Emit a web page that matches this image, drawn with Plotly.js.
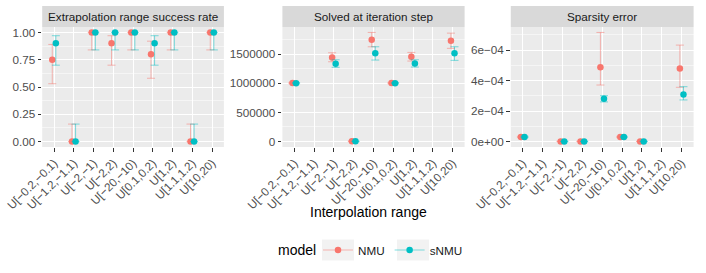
<!DOCTYPE html>
<html>
<head>
<meta charset="utf-8">
<script src="https://cdn.plot.ly/plotly-3.0.1.min.js"></script>
<style>html,body{margin:0;padding:0;background:#fff;}#chart{width:706px;height:273px;}</style>
</head>
<body>
<div id="chart"></div>
<script>
// ---- data ----
const categories = ["U[\u22120.2,\u22120.1)","U[\u22121.2,\u22121.1)","U[\u22122,\u22121)","U[\u22122,2)","U[\u221220,\u221210)","U[0.1,0.2)","U[1,2)","U[1.1,1.2)","U[10,20)"];
const models = ["NMU", "sNMU"];
const panelTitles = ["Extrapolation range success rate", "Solved at iteration step", "Sparsity error"];

// Extrapolation range success rate
const nmuSuccess    = [0.75, 0,    1,    0.90, 1,    0.80, 1,    0,    1];
const nmuSuccessLo  = [0.53, 0,    0.84, 0.70, 0.84, 0.58, 0.84, 0,    0.84];
const nmuSuccessHi  = [0.89, 0.16, 1,    0.97, 1,    0.92, 1,    0.16, 1];
const snmuSuccess   = [0.90, 0,    1,    1,    1,    0.90, 1,    0,    1];
const snmuSuccessLo = [0.70, 0,    0.84, 0.84, 0.84, 0.70, 0.84, 0,    0.84];
const snmuSuccessHi = [0.97, 0.16, 1,    1,    1,    0.97, 1,    0.16, 1];

// Solved at iteration step
const nmuIter    = [1005000, null, 1445000, 5000,  1747000, 1005000, 1455000, null, 1729000];
const nmuIterLo  = [995000,  null, 1370000, 0,     1627000, 995000,  1382000, null, 1600000];
const nmuIterHi  = [1015000, null, 1524000, 10000, 1873000, 1015000, 1530000, null, 1861000];
const snmuIter   = [1003000, null, 1336000, 4000,  1514000, 1003000, 1342000, null, 1514000];
const snmuIterLo = [993000,  null, 1274000, 0,     1399000, 993000,  1279000, null, 1394000];
const snmuIterHi = [1013000, null, 1404000, 8000,  1627000, 1013000, 1404000, null, 1627000];

// Sparsity error
const nmuSparse    = [3.0e-5, null, 1e-6, 1e-6, 4.87e-4, 3.0e-5, 1e-6, null, 4.80e-4];
const nmuSparseLo  = [2.6e-5, null, 0,    0,    3.71e-4, 2.6e-5, 0,    null, 3.56e-4];
const nmuSparseHi  = [3.4e-5, null, 2e-6, 2e-6, 7.16e-4, 3.4e-5, 2e-6, null, 6.33e-4];
const snmuSparse   = [3.0e-5, null, 1e-6, 1e-6, 2.81e-4, 3.0e-5, 1e-6, null, 3.08e-4];
const snmuSparseLo = [2.6e-5, null, 0,    0,    2.60e-4, 2.6e-5, 0,    null, 2.73e-4];
const snmuSparseHi = [3.4e-5, null, 2e-6, 2e-6, 3.01e-4, 3.4e-5, 2e-6, null, 3.60e-4];

const sparseTickVals = [0, 2e-4, 4e-4, 6e-4];
const sparseTickText = ["0e+00", "2e\u221204", "4e\u221204", "6e\u221204"];

// ---- styling ----
const colors = {NMU: "#F8766D", sNMU: "#00BFC4"};
const barColors = {NMU: "rgba(248,118,109,0.5)", sNMU: "rgba(0,191,196,0.5)"};
const FONT = "Liberation Sans, Arial, Helvetica, sans-serif";
const W = 706, H = 273;
const xDomains = [[42.2 / W, 223.9 / W], [282.4 / W, 464.6 / W], [510.8 / W, 693.6 / W]];
const yDomain = [(H - 147) / H, (H - 27) / H];
const stripTop = (H - 6) / H;
const dodge = 0.09;

function mkTrace(k, model, vals, lo, hi) {
  const idx = vals.map((v, i) => i + 1 + (model === "NMU" ? -dodge : dodge));
  return {
    type: "scatter", mode: "markers",
    x: idx, y: vals,
    xaxis: k === 0 ? "x" : "x" + (k + 1),
    yaxis: k === 0 ? "y" : "y" + (k + 1),
    showlegend: false, name: model,
    marker: {color: colors[model], size: 6.5, line: {width: 0}},
    error_y: {
      type: "data", symmetric: false,
      array: vals.map((v, i) => v === null ? null : hi[i] - v),
      arrayminus: vals.map((v, i) => v === null ? null : v - lo[i]),
      color: barColors[model], thickness: 1, width: 4
    },
    hoverinfo: "skip"
  };
}

const panels = [
  {nmu: [nmuSuccess, nmuSuccessLo, nmuSuccessHi], snmu: [snmuSuccess, snmuSuccessLo, snmuSuccessHi]},
  {nmu: [nmuIter, nmuIterLo, nmuIterHi], snmu: [snmuIter, snmuIterLo, snmuIterHi]},
  {nmu: [nmuSparse, nmuSparseLo, nmuSparseHi], snmu: [snmuSparse, snmuSparseLo, snmuSparseHi]}
];

const traces = [];
const ranges = [];
panels.forEach((p, k) => {
  traces.push(mkTrace(k, "NMU", p.nmu[0], p.nmu[1], p.nmu[2]));
  traces.push(mkTrace(k, "sNMU", p.snmu[0], p.snmu[1], p.snmu[2]));
  const all = [].concat(p.nmu[1], p.nmu[2], p.snmu[1], p.snmu[2]).filter(v => v !== null);
  const mn = Math.min(...all), mx = Math.max(...all);
  const pad = (mx - mn) * 0.05;
  ranges.push([mn - pad, mx + pad]);
});
// legend-only traces
models.forEach(m => {
  traces.push({
    type: "scatter", mode: "lines+markers", x: [null], y: [null], name: m,
    marker: {color: colors[m], size: 6.5}, line: {color: barColors[m], width: 1},
    showlegend: true, hoverinfo: "skip"
  });
});

const legendLeft = 318;
const legendY = 250;
const layout = {
  width: W, height: H,
  margin: {l: 0, r: 0, t: 0, b: 0},
  paper_bgcolor: "#FFFFFF", plot_bgcolor: "#EBEBEB",
  font: {family: FONT, size: 11.7, color: "#4D4D4D"},
  showlegend: true,
  legend: {
    orientation: "h", x: legendLeft / W, xanchor: "left", y: (H - legendY) / H, yanchor: "middle",
    font: {size: 11.7, color: "#1A1A1A", family: FONT},
    itemwidth: 30, bgcolor: "rgba(0,0,0,0)", tracegroupgap: 0
  },
  shapes: [], annotations: []
};

// light grey legend key backgrounds (ggplot style)
[[legendLeft + 4, legendLeft + 36], [legendLeft + 79, legendLeft + 111]].forEach(b => {
  layout.shapes.push({
    type: "rect", xref: "paper", yref: "paper",
    x0: b[0] / W, x1: b[1] / W, y0: (H - legendY - 10.5) / H, y1: (H - legendY + 10.5) / H,
    fillcolor: "#F2F2F2", line: {width: 0}, layer: "below"
  });
});

const ySettings = [
  {tickmode: "linear", tick0: 0, dtick: 0.25, tickformat: ".2f", minor: {tickmode: "linear", tick0: 0.125, dtick: 0.25, showgrid: true, gridcolor: "#FFFFFF", gridwidth: 0.5}},
  {tickmode: "linear", tick0: 0, dtick: 500000, tickformat: "d", minor: {tickmode: "linear", tick0: 250000, dtick: 500000, showgrid: true, gridcolor: "#FFFFFF", gridwidth: 0.5}},
  {tickmode: "array", tickvals: sparseTickVals, ticktext: sparseTickText, minor: {tickmode: "linear", tick0: 1e-4, dtick: 2e-4, showgrid: true, gridcolor: "#FFFFFF", gridwidth: 0.5}}
];

for (let k = 0; k < 3; k++) {
  const xs = k === 0 ? "xaxis" : "xaxis" + (k + 1);
  const ys = k === 0 ? "yaxis" : "yaxis" + (k + 1);
  layout[xs] = {
    domain: xDomains[k], anchor: k === 0 ? "y" : "y" + (k + 1),
    range: [0.4, categories.length + 0.6],
    tickmode: "array", tickvals: categories.map((c, i) => i + 1), ticktext: categories,
    tickangle: -45, ticks: "outside", ticklen: 3.7, tickwidth: 1, tickcolor: "#333333",
    showgrid: true, gridcolor: "#FFFFFF", gridwidth: 1, zeroline: false, showline: false,
    tickfont: {size: 11.7, color: "#4D4D4D", family: FONT}, fixedrange: true
  };
  layout[ys] = Object.assign({
    domain: yDomain, anchor: k === 0 ? "x" : "x" + (k + 1),
    range: ranges[k], ticks: "outside", ticklen: 3.7, tickwidth: 1, tickcolor: "#333333",
    showgrid: true, gridcolor: "#FFFFFF", gridwidth: 1, zeroline: false, showline: false,
    tickfont: {size: 11.7, color: "#4D4D4D", family: FONT}, fixedrange: true
  }, ySettings[k]);
  layout.shapes.push({
    type: "rect", xref: "paper", yref: "paper",
    x0: xDomains[k][0], x1: xDomains[k][1], y0: yDomain[1], y1: stripTop,
    fillcolor: "#D9D9D9", line: {width: 0}, layer: "below"
  });
  layout.annotations.push({
    xref: "paper", yref: "paper", x: (xDomains[k][0] + xDomains[k][1]) / 2, y: (yDomain[1] + stripTop) / 2,
    xanchor: "center", yanchor: "middle", text: panelTitles[k], showarrow: false,
    font: {size: 11.7, color: "#1A1A1A", family: FONT}
  });
}
layout.annotations.push({
  xref: "paper", yref: "paper", x: 368 / W, y: (H - 212) / H, xanchor: "center", yanchor: "middle",
  text: "Interpolation range", showarrow: false, font: {size: 14, color: "#000000", family: FONT}
});
layout.annotations.push({
  xref: "paper", yref: "paper", x: 276 / W, y: (H - legendY) / H, xanchor: "left", yanchor: "middle",
  text: "model", showarrow: false, font: {size: 14, color: "#000000", family: FONT}
});

Plotly.newPlot("chart", traces, layout, {displayModeBar: false, staticPlot: true});
</script>
</body>
</html>
